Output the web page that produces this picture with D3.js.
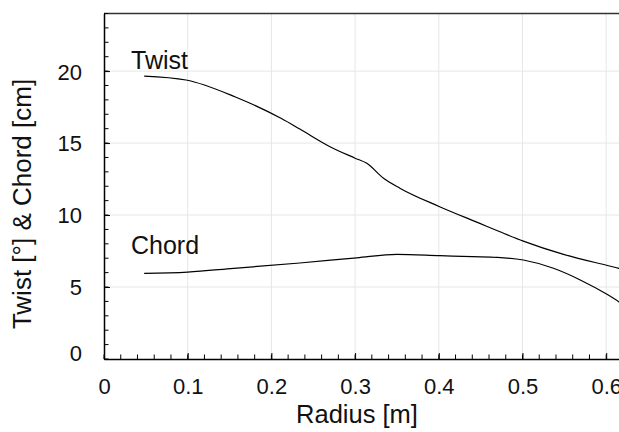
<!DOCTYPE html>
<html><head><meta charset="utf-8">
<script src="https://cdn.jsdelivr.net/npm/d3@7"></script>
<style>
html,body{margin:0;padding:0;background:#fff;overflow:hidden;}
svg{display:block;font-family:"Liberation Sans",Arial,Helvetica,sans-serif;}
</style></head>
<body>
<svg id="chart" width="619" height="432"></svg>
<script>
// Data
const twistRadius = [0.048,0.098,0.157,0.212,0.234,0.270,0.300,0.314,0.334,0.354,0.401,0.449,0.473,0.501,0.550,0.6025,0.615,0.635];
const twistValues = [19.65,19.38,18.2,16.7,15.97,14.75,13.95,13.59,12.55,11.85,10.58,9.42,8.84,8.19,7.25,6.48,6.3,6.05];
const chordRadius = [0.048,0.100,0.155,0.234,0.302,0.350,0.401,0.440,0.470,0.501,0.537,0.569,0.6025,0.615,0.635];
const chordValues = [5.95,6.04,6.30,6.67,7.03,7.27,7.18,7.11,7.06,6.875,6.30,5.49,4.44,3.98,3.1];
const xTickValues = [0,0.1,0.2,0.3,0.4,0.5,0.6];
const xTickLabels = ["0","0.1","0.2","0.3","0.4","0.5","0.6"];
const yTickValues = [0,5,10,15,20];
const yTickLabels = ["0","5","10","15","20"];
const seriesLabels = ["Twist","Chord"];
const axisTitles = {x:"Radius [m]", y:"Twist [°] & Chord [cm]"};

(function(){
const svg = d3.select("#chart");
const left = 104, bottom = 359, topY = 13.5;
const x = d3.scaleLinear().domain([0,0.65]).range([left, left+0.65*837]);
const y = d3.scaleLinear().domain([0,24]).range([bottom, topY]);
const xRight = x(0.65);

// grid
const grid = svg.append("g");
grid.selectAll("line.gx").data(xTickValues.slice(1)).enter().append("line")
  .attr("x1",d=>x(d)).attr("x2",d=>x(d)).attr("y1",bottom).attr("y2",topY)
  .attr("stroke","#e6e6e6").attr("stroke-width",1);
grid.selectAll("line.gy").data(yTickValues.slice(1)).enter().append("line")
  .attr("x1",left).attr("x2",xRight).attr("y1",d=>y(d)).attr("y2",d=>y(d))
  .attr("stroke","#e6e6e6").attr("stroke-width",1);

// top border
svg.append("line").attr("x1",left).attr("x2",xRight).attr("y1",topY).attr("y2",topY)
  .attr("stroke","#333").attr("stroke-width",1.5);

// curves
const line = d3.line().curve(d3.curveMonotoneX).x(d=>x(d[0])).y(d=>y(d[1]));
svg.append("path").datum(twistRadius.map((r,i)=>[r,twistValues[i]]))
  .attr("d",line).attr("fill","none").attr("stroke","#000").attr("stroke-width",1.2);
svg.append("path").datum(chordRadius.map((r,i)=>[r,chordValues[i]]))
  .attr("d",line).attr("fill","none").attr("stroke","#000").attr("stroke-width",1.2);

// x axis
const xMinor = d3.range(0,0.651,0.02);
const xAxis = d3.axisBottom(x).tickValues(xTickValues).tickFormat((d,i)=>xTickLabels[i]).tickSizeInner(-6).tickSizeOuter(0).tickPadding(19);
const gx = svg.append("g").attr("transform",`translate(0,${bottom})`).call(xAxis);
gx.select(".domain").attr("stroke","#000").attr("stroke-width",1.5);
gx.selectAll(".tick line").attr("stroke","#000").attr("stroke-width",1);
gx.selectAll(".tick text").attr("font-size",22).attr("fill","#111").attr("dy","0.71em").attr("font-family","Liberation Sans, Arial, sans-serif");
gx.selectAll("line.minor").data(xMinor).enter().append("line").attr("class","minor")
  .attr("x1",d=>x(d)).attr("x2",d=>x(d)).attr("y1",0).attr("y2",-4.5).attr("stroke","#000");

// y axis
const yMinor = d3.range(0,24.01,1);
const yAxis = d3.axisLeft(y).tickValues(yTickValues).tickFormat((d,i)=>yTickLabels[i]).tickSizeInner(-6).tickSizeOuter(0).tickPadding(22);
const gy = svg.append("g").attr("transform",`translate(${left},0)`).call(yAxis);
gy.select(".domain").attr("stroke","#000").attr("stroke-width",1.5);
gy.selectAll(".tick line").attr("stroke","#000").attr("stroke-width",1);
gy.selectAll(".tick text").attr("font-size",22).attr("fill","#111").attr("font-family","Liberation Sans, Arial, sans-serif")
  .attr("dy",d=>d===0?"0.08em":"0.36em");
gy.selectAll("line.minor").data(yMinor).enter().append("line").attr("class","minor")
  .attr("y1",d=>y(d)).attr("y2",d=>y(d)).attr("x1",0).attr("x2",4.5).attr("stroke","#000");

// axis titles
svg.append("text").attr("x",357).attr("y",423).attr("text-anchor","middle")
  .attr("font-size",25.5).attr("fill","#111").text(axisTitles.x);
svg.append("text").attr("transform","translate(31,204) rotate(-90)").attr("text-anchor","middle")
  .attr("font-size",26).attr("fill","#111").text(axisTitles.y);

// series labels
svg.append("text").attr("x",131).attr("y",68.5).attr("font-size",25).attr("fill","#111").text(seriesLabels[0]);
svg.append("text").attr("x",131).attr("y",254).attr("font-size",25).attr("fill","#111").text(seriesLabels[1]);
})();
</script>
</body></html>
